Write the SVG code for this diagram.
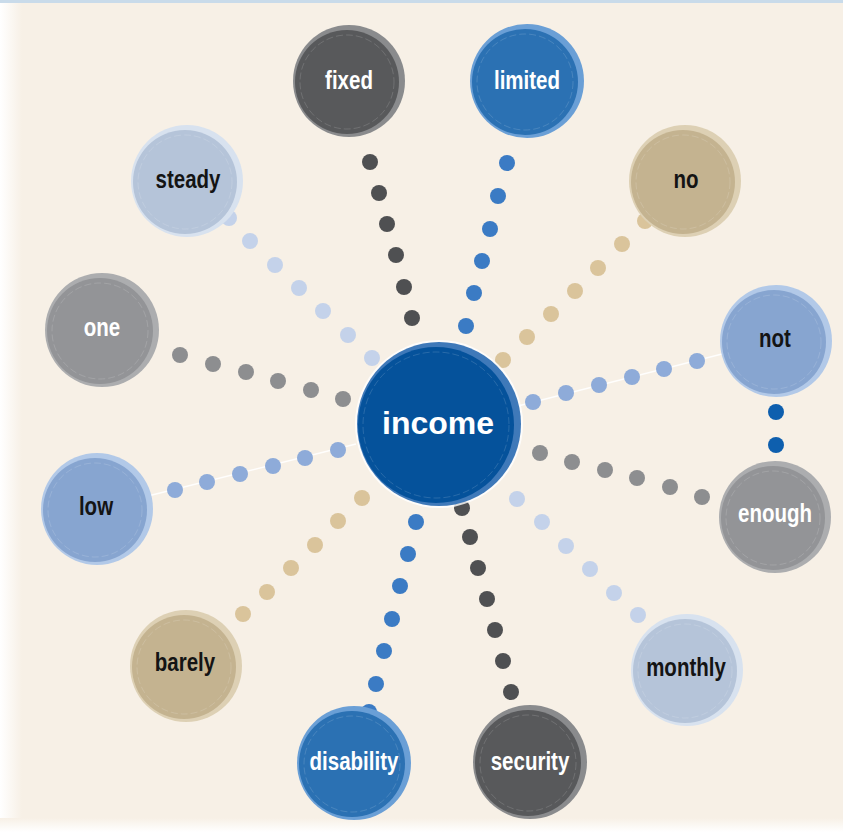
<svg xmlns="http://www.w3.org/2000/svg" width="843" height="832" viewBox="0 0 843 832">
<style>
.lbl{font-family:"Liberation Sans",Arial,sans-serif;font-weight:bold;font-size:25px;text-anchor:middle}
.w{fill:#ffffff}
.k{fill:#141414}
.ring{fill:none;stroke:#ffffff;stroke-opacity:0.18;stroke-width:0.8;stroke-dasharray:7 3}
.dk{fill:#4f5052}.bl{fill:#3b7bc4}.lb{fill:#c4d2ea}.tn{fill:#dac49b}.mb{fill:#8eabd9}.gr{fill:#8d8e90}.nb{fill:#0e5fae}
.wl{stroke:#ffffff;stroke-width:1.6;stroke-opacity:0.9;fill:none}
</style>
<defs>
<linearGradient id="leftfade" x1="0" y1="0" x2="1" y2="0">
<stop offset="0" stop-color="#ffffff"/><stop offset="1" stop-color="#f7f0e6"/>
</linearGradient>
<linearGradient id="botfade" x1="0" y1="0" x2="0" y2="1">
<stop offset="0" stop-color="#f7f0e6"/><stop offset="1" stop-color="#ffffff"/>
</linearGradient>
</defs>
<rect x="0" y="0" width="843" height="832" fill="#ffffff"/>
<rect x="0" y="0" width="843" height="826" fill="#f7f0e6"/>
<rect x="0" y="0" width="22" height="832" fill="url(#leftfade)"/>
<rect x="0" y="818" width="843" height="14" fill="url(#botfade)"/>
<rect x="0" y="0" width="843" height="3" fill="#c9dbea"/>

<g id="connectors">
<line class="wl" x1="140" y1="498" x2="356" y2="444"/>
<line class="wl" x1="518" y1="406" x2="722" y2="354"/>
<g class="dk">
<circle cx="370" cy="162" r="8"/><circle cx="379" cy="193" r="8"/><circle cx="387" cy="224" r="8"/><circle cx="396" cy="255" r="8"/><circle cx="404" cy="287" r="8"/><circle cx="412" cy="318" r="8"/>
<circle cx="462" cy="508" r="8"/><circle cx="470" cy="537" r="8"/><circle cx="478" cy="568" r="8"/><circle cx="487" cy="599" r="8"/><circle cx="495" cy="630" r="8"/><circle cx="503" cy="661" r="8"/><circle cx="511" cy="692" r="8"/>
</g>
<g class="bl">
<circle cx="507" cy="163" r="8"/><circle cx="498" cy="196" r="8"/><circle cx="490" cy="229" r="8"/><circle cx="482" cy="261" r="8"/><circle cx="474" cy="293" r="8"/><circle cx="466" cy="326" r="8"/>
<circle cx="416" cy="522" r="8"/><circle cx="408" cy="554" r="8"/><circle cx="400" cy="586" r="8"/><circle cx="392" cy="619" r="8"/><circle cx="384" cy="651" r="8"/><circle cx="376" cy="684" r="8"/><circle cx="369" cy="712" r="8"/>
</g>
<g class="tn">
<circle cx="645" cy="221" r="8"/><circle cx="622" cy="244" r="8"/><circle cx="598" cy="268" r="8"/><circle cx="575" cy="291" r="8"/><circle cx="551" cy="314" r="8"/><circle cx="527" cy="337" r="8"/><circle cx="503" cy="360" r="8"/>
<circle cx="362" cy="498" r="8"/><circle cx="338" cy="521" r="8"/><circle cx="315" cy="545" r="8"/><circle cx="291" cy="568" r="8"/><circle cx="267" cy="592" r="8"/><circle cx="243" cy="614" r="8"/>
</g>
<g class="mb">
<circle cx="533" cy="402" r="8"/><circle cx="566" cy="393" r="8"/><circle cx="599" cy="385" r="8"/><circle cx="632" cy="377" r="8"/><circle cx="664" cy="369" r="8"/><circle cx="697" cy="361" r="8"/>
<circle cx="175" cy="490" r="8"/><circle cx="207" cy="482" r="8"/><circle cx="240" cy="474" r="8"/><circle cx="273" cy="466" r="8"/><circle cx="305" cy="458" r="8"/><circle cx="338" cy="450" r="8"/>
</g>
<g class="gr">
<circle cx="540" cy="453" r="8"/><circle cx="572" cy="462" r="8"/><circle cx="605" cy="470" r="8"/><circle cx="637" cy="478" r="8"/><circle cx="670" cy="487" r="8"/><circle cx="702" cy="497" r="8"/>
<circle cx="180" cy="355" r="8"/><circle cx="213" cy="364" r="8"/><circle cx="246" cy="372" r="8"/><circle cx="278" cy="381" r="8"/><circle cx="311" cy="390" r="8"/><circle cx="343" cy="399" r="8"/>
</g>
<g class="lb">
<circle cx="517" cy="499" r="8"/><circle cx="542" cy="522" r="8"/><circle cx="566" cy="546" r="8"/><circle cx="590" cy="569" r="8"/><circle cx="614" cy="593" r="8"/><circle cx="638" cy="615" r="8"/>
<circle cx="229" cy="218" r="8"/><circle cx="250" cy="241" r="8"/><circle cx="275" cy="265" r="8"/><circle cx="299" cy="288" r="8"/><circle cx="323" cy="311" r="8"/><circle cx="348" cy="335" r="8"/><circle cx="372" cy="358" r="8"/>
</g>
<g class="nb">
<circle cx="776" cy="412" r="8"/><circle cx="776" cy="445" r="8"/>
</g>
</g>

<g id="node-income">
<circle cx="439" cy="424" r="84" fill="#ffffff" fill-opacity="0.8"/>
<circle cx="439" cy="424" r="82" fill="#3f79b9"/>
<circle cx="436" cy="425" r="78" fill="#05529b"/>
<circle cx="436" cy="425" r="73" class="ring"/>
<text x="438" y="434" style="font-family:'Liberation Sans',Arial,sans-serif;font-weight:bold;font-size:32px;text-anchor:middle" class="w">income</text>
</g>

<g id="node-fixed">
<circle cx="349" cy="81" r="56" fill="#8a8b8d"/>
<circle cx="347" cy="82" r="52" fill="#58595b"/>
<circle cx="347" cy="82" r="47" class="ring"/>
<text transform="translate(349 89) scale(0.82 1)" class="lbl w">fixed</text>
</g>
<g id="node-limited">
<circle cx="527" cy="81" r="57" fill="#6a9fd6"/>
<circle cx="525" cy="82" r="53" fill="#2b71b3"/>
<circle cx="525" cy="82" r="48" class="ring"/>
<text transform="translate(527 89) scale(0.82 1)" class="lbl w">limited</text>
</g>
<g id="node-steady">
<circle cx="187" cy="181" r="56" fill="#d8e2ef"/>
<circle cx="185" cy="182" r="52" fill="#b5c4d9"/>
<circle cx="185" cy="182" r="47" class="ring"/>
<text transform="translate(188 188) scale(0.82 1)" class="lbl k">steady</text>
</g>
<g id="node-no">
<circle cx="685" cy="181" r="56" fill="#ddd0b4"/>
<circle cx="683" cy="182" r="52" fill="#c4b390"/>
<circle cx="683" cy="182" r="47" class="ring"/>
<text transform="translate(686 188) scale(0.82 1)" class="lbl k">no</text>
</g>
<g id="node-one">
<circle cx="102" cy="330" r="57" fill="#acadaf"/>
<circle cx="100" cy="331" r="53" fill="#939497"/>
<circle cx="100" cy="331" r="48" class="ring"/>
<text transform="translate(102 336) scale(0.82 1)" class="lbl w">one</text>
</g>
<g id="node-not">
<circle cx="776" cy="341" r="56" fill="#b2c9e8"/>
<circle cx="774" cy="342" r="52" fill="#87a5d0"/>
<circle cx="774" cy="342" r="47" class="ring"/>
<text transform="translate(775 347) scale(0.82 1)" class="lbl k">not</text>
</g>
<g id="node-low">
<circle cx="97" cy="509" r="56" fill="#b2c9e8"/>
<circle cx="95" cy="510" r="52" fill="#87a5d0"/>
<circle cx="95" cy="510" r="47" class="ring"/>
<text transform="translate(96 515) scale(0.82 1)" class="lbl k">low</text>
</g>
<g id="node-enough">
<circle cx="775" cy="517" r="56" fill="#acadaf"/>
<circle cx="773" cy="518" r="52" fill="#939497"/>
<circle cx="773" cy="518" r="47" class="ring"/>
<text transform="translate(775 522) scale(0.82 1)" class="lbl w">enough</text>
</g>
<g id="node-barely">
<circle cx="186" cy="666" r="56" fill="#ddd0b4"/>
<circle cx="184" cy="667" r="52" fill="#c4b390"/>
<circle cx="184" cy="667" r="47" class="ring"/>
<text transform="translate(185 671) scale(0.82 1)" class="lbl k">barely</text>
</g>
<g id="node-monthly">
<circle cx="687" cy="670" r="56" fill="#d8e2ef"/>
<circle cx="685" cy="671" r="52" fill="#b5c4d9"/>
<circle cx="685" cy="671" r="47" class="ring"/>
<text transform="translate(686 676) scale(0.82 1)" class="lbl k">monthly</text>
</g>
<g id="node-disability">
<circle cx="354" cy="763" r="57" fill="#6a9fd6"/>
<circle cx="352" cy="764" r="53" fill="#2b71b3"/>
<circle cx="352" cy="764" r="48" class="ring"/>
<text transform="translate(354 770) scale(0.82 1)" class="lbl w">disability</text>
</g>
<g id="node-security">
<circle cx="530" cy="762" r="57" fill="#8a8b8d"/>
<circle cx="528" cy="763" r="53" fill="#58595b"/>
<circle cx="528" cy="763" r="48" class="ring"/>
<text transform="translate(530 770) scale(0.82 1)" class="lbl w">security</text>
</g>
</svg>
